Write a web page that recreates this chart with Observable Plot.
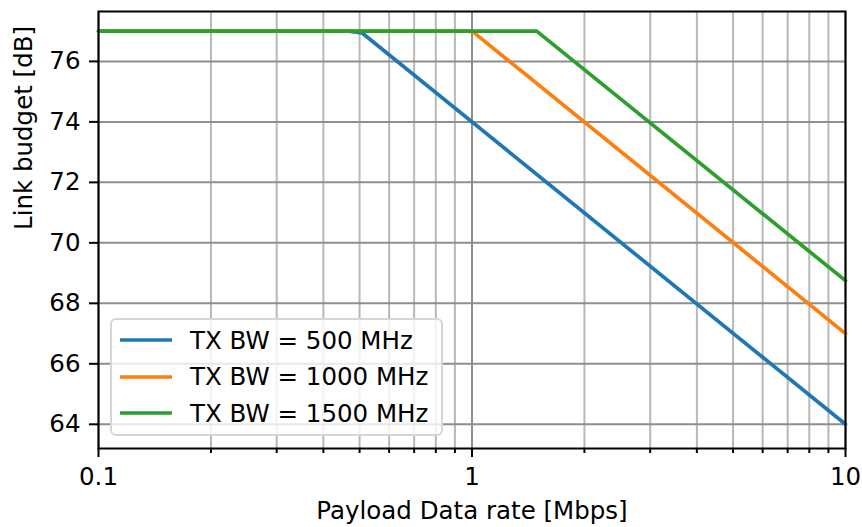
<!DOCTYPE html>
<html>
<head>
<meta charset="utf-8">
<script src="https://cdn.jsdelivr.net/npm/d3@7"></script>
<script src="https://cdn.jsdelivr.net/npm/@observablehq/plot@0.6"></script>
<style>
  html, body { margin: 0; padding: 0; background: #fff; }
  #wrap { position: relative; width: 862px; height: 527px; font-family: "DejaVu Sans", sans-serif; }
  #legend { position: absolute; left: 110px; top: 318px; width: 329px; height: 114px;
    border: 2px solid #d6d6d6; border-radius: 6px; background: rgba(255,255,255,0.8); }
  .row { position: absolute; left: 0; height: 30px; display: flex; align-items: center; }
  .row span { font-size: 24.5px; color: #000; position: absolute; left: 78px; white-space: nowrap; }
</style>
</head>
<body>
<div id="wrap"></div>
<script>
// Data
const seriesNames = ["TX BW = 500 MHz", "TX BW = 1000 MHz", "TX BW = 1500 MHz"];
const seriesColors = ["#1f77b4", "#ff7f0e", "#2ca02c"];
const rate500 = [0.1, 0.467, 0.508, 10];
const budget500 = [77, 77, 76.94, 64];
const rate1000 = [0.1, 0.98, 1.01, 10];
const budget1000 = [77, 77, 76.96, 67];
const rate1500 = [0.1, 1.49, 10];
const budget1500 = [77, 77, 68.75];

const xMajorTicks = [0.1, 1, 10];
const xMinorTicks = [0.2, 0.3, 0.4, 0.5, 0.6, 0.7, 0.8, 0.9, 2, 3, 4, 5, 6, 7, 8, 9];
const yTicks = [64, 66, 68, 70, 72, 74, 76];
const xLabel = "Payload Data rate [Mbps]";
const yLabel = "Link budget [dB]";

const rows = [];
[[rate500, budget500], [rate1000, budget1000], [rate1500, budget1500]].forEach(([xs, ys], i) => {
  xs.forEach((x, j) => rows.push({series: seriesNames[i], rate: x, budget: ys[j]}));
});

const FS = 24.5;
const chart = Plot.plot({
  width: 862,
  height: 527,
  marginLeft: 98,
  marginRight: 17,
  marginTop: 11,
  marginBottom: 79,
  style: {fontFamily: "DejaVu Sans, sans-serif", fontSize: FS + "px", color: "#000", background: "#fff"},
  x: {type: "log", domain: [0.1, 10]},
  y: {domain: [63.2, 77.65]},
  color: {domain: seriesNames, range: seriesColors},
  marks: [
    Plot.ruleX(xMinorTicks, {stroke: "#b8b8b8", strokeWidth: 2}),
    Plot.ruleX(xMajorTicks, {stroke: "#8e8e8e", strokeWidth: 2}),
    Plot.ruleY(yTicks, {stroke: "#8e8e8e", strokeWidth: 2}),
    Plot.line(rows, {x: "rate", y: "budget", z: "series", stroke: "series", strokeWidth: 3.7, strokeLinejoin: "round"}),
    Plot.axisX({ticks: xMinorTicks, tickSize: 5, strokeWidth: 2, tickFormat: () => "", label: null}),
    Plot.axisX({ticks: xMajorTicks, tickSize: 9, strokeWidth: 2, tickPadding: 10, tickFormat: d => String(d), label: null, fontSize: FS}),
    Plot.axisY({ticks: yTicks, tickSize: 9, strokeWidth: 2, tickPadding: 9, label: null, fontSize: FS}),
    Plot.text([xLabel], {frameAnchor: "bottom", dy: 70, lineAnchor: "bottom", fontSize: FS, fill: "#000"}),
    Plot.text([yLabel], {frameAnchor: "left", dx: -74, rotate: -90, lineAnchor: "middle", fontSize: FS, fill: "#000"}),
    Plot.frame({stroke: "#000", strokeWidth: 2})
  ]
});

const wrap = document.getElementById("wrap");
wrap.appendChild(chart);

const legend = document.createElement("div");
legend.id = "legend";
seriesNames.forEach((name, i) => {
  const row = document.createElement("div");
  row.className = "row";
  row.style.top = (5 + i * 36.7) + "px";
  row.style.width = "325px";
  row.innerHTML = `<svg width="80" height="30" style="position:absolute;left:0;top:0">
      <line x1="8" x2="60" y1="15" y2="15" stroke="${seriesColors[i]}" stroke-width="3.7"/></svg>
      <span>${name}</span>`;
  legend.appendChild(row);
});
wrap.appendChild(legend);
</script>
</body>
</html>
